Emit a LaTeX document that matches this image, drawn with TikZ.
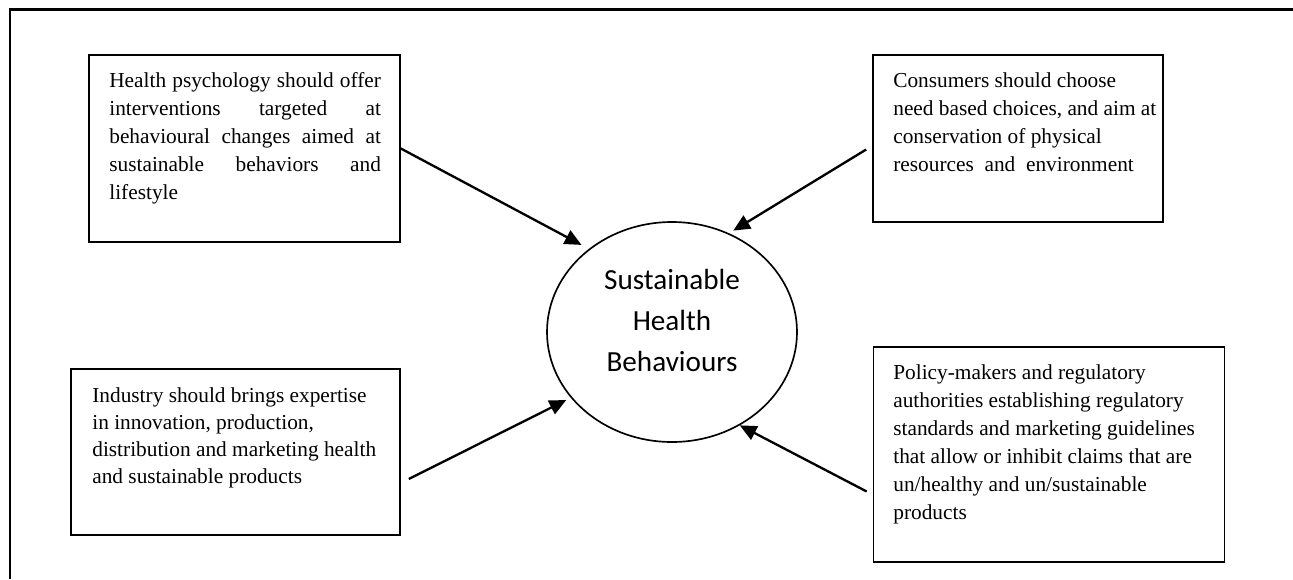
\documentclass[tikz,border=0pt]{standalone}
\usepackage{fontspec}
\setmainfont{Liberation Serif}
\newfontfamily\ovalfont{Carlito}
\usetikzlibrary{arrows.meta,shapes.geometric}

\begin{document}
\begin{tikzpicture}[x=0.6pt, y=-0.6pt,
	box/.style={draw, line width=1pt, inner sep=0pt},
	boxtext/.style={anchor=north west, inner sep=0pt, align=left, font=\fontsize{12.8}{16.8}\selectfont},
	arrow/.style={line width=1.4pt, -{Triangle[length=10pt, width=9pt]}}]

	\useasboundingbox (0,0) rectangle (1293,579);

	% Frame, top and left sides
	\draw[line width=1.5pt] (10,579) -- (10,9.5) -- (1293,9.5);

	% Boxes
	\node[box, minimum width=186.6pt, minimum height=112.2pt] (psy) at (244.5,148.5) {};
	\node[box, minimum width=174pt, minimum height=100.2pt] (cons) at (1018,138.5) {};
	\node[box, minimum width=197.4pt, minimum height=99.6pt] (ind) at (235.5,452) {};
	\node[box, minimum width=210.6pt, minimum height=129pt] (pol) at (1049,454.5) {};

	% Oval in the middle
	\node[draw, ellipse, line width=1pt, inner sep=0pt, minimum width=150pt, minimum height=132pt] (shb) at (672,332) {};
	\node[align=center, font=\ovalfont\fontsize{17.5}{24.4}\selectfont] (shbtext) at ([yshift=7pt]shb.center) {Sustainable\\Health\\Behaviours};

	% Box texts
	\node[boxtext, text width=163pt, align=justify] (psytext) at (109,72) {Health psychology should offer\linebreak
		interventions targeted at\linebreak behavioural changes aimed at\linebreak sustainable behaviors and\linebreak lifestyle};
	\node[boxtext] (constext) at (893,72) {Consumers should choose\\need based choices, and aim at\\conservation of physical\\resources\ \ and\ \ environment};
	\node[boxtext, font=\fontsize{12.8}{16.2}\selectfont] (indtext) at (92,387) {Industry should brings expertise\\in innovation, production,\\distribution and marketing health\\and sustainable products};
	\node[boxtext] (poltext) at (893,364) {Policy-makers and regulatory\\authorities establishing regulatory\\standards and marketing guidelines\\that allow or inhibit claims that are\\un/healthy and un/sustainable\\products};

	% Arrows
	\coordinate (consout) at ([shift={(-6,11)}]cons.west);
	\coordinate (indout) at ([shift={(8,27)}]ind.east);
	\coordinate (polout) at ([shift={(-6,37)}]pol.west);

	\draw[arrow, shorten >=5pt] (psy.east) -- (shb.135);
	\draw[arrow, shorten >=3pt] (consout) -- (shb.60);
	\draw[arrow, shorten >=3pt] (indout) -- (shb.213);
	\draw[arrow] (polout) -- (shb.306);
\end{tikzpicture}
\end{document}
